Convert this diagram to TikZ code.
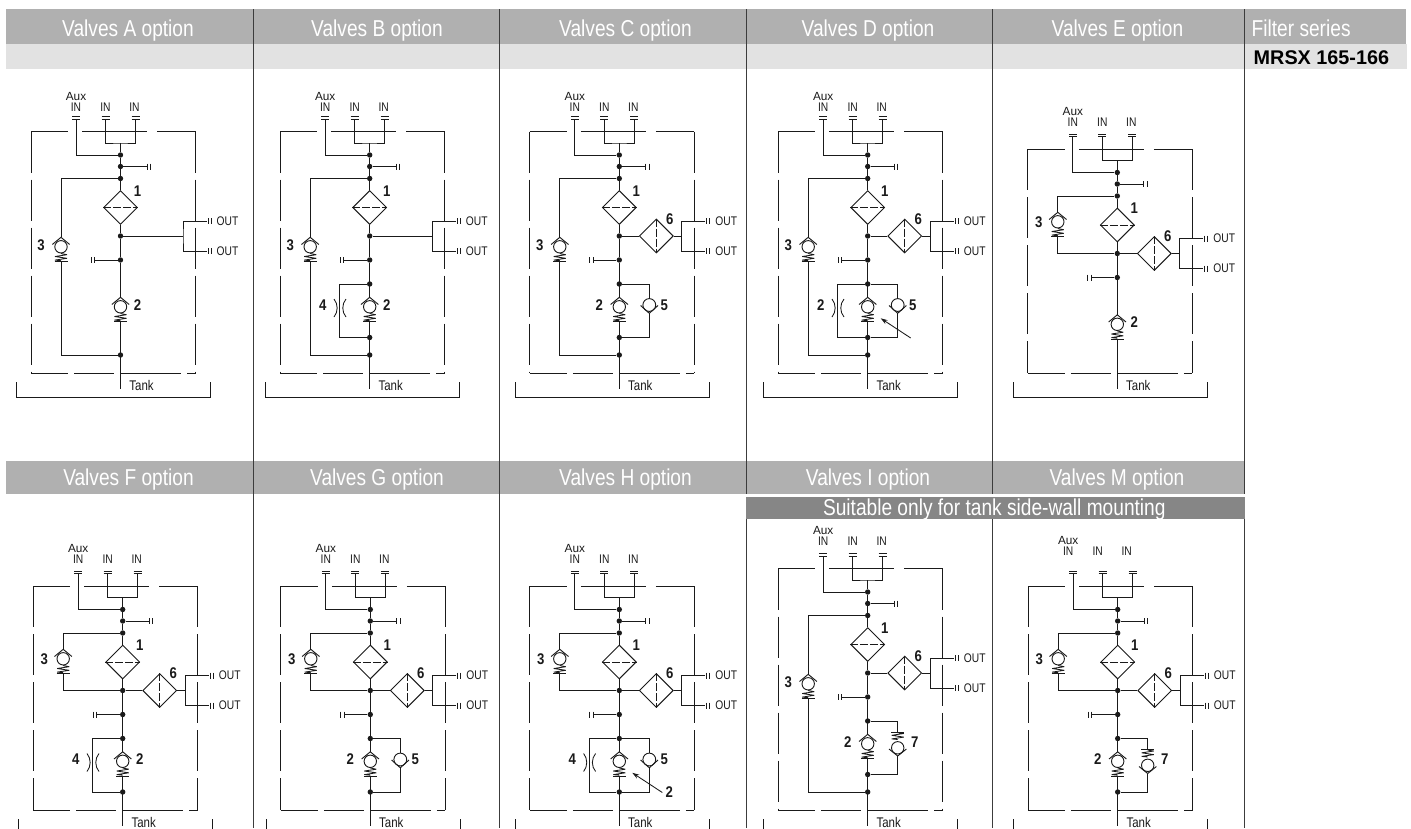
\documentclass[tikz,border=0pt]{standalone}
\usepackage{fontspec}
\usetikzlibrary{shapes.geometric,arrows.meta}
\setmainfont{Liberation Sans}
\newfontfamily\hdrfont[FakeStretch=.832]{Liberation Sans}
\newfontfamily\tagfont[FakeStretch=.82]{Liberation Sans}
\newfontfamily\numfont[FakeStretch=.85]{Liberation Sans Bold}
\definecolor{hdrgrey}{HTML}{B0B0B0}
\definecolor{lightgrey}{HTML}{E2E2E2}
\definecolor{darkgrey}{HTML}{868686}
\definecolor{ink}{HTML}{1A1A1A}
\tikzset{
  wire/.style={draw=ink,line width=.92pt},
  thinwire/.style={draw=ink,line width=.85pt},
  frameline/.style={draw=ink,line width=.9pt},
  divider/.style={draw=ink!85,line width=1pt},
  dotnode/.style={circle,fill=ink,inner sep=0pt,minimum size=5.4pt},
  filterbox/.style={diamond,draw=ink,line width=.92pt,inner sep=0pt,aspect=1,minimum size=34pt},
  dashline/.style={draw=ink,line width=.9pt,dash pattern=on 8pt off 2pt},
  hdrtext/.style={text=white,font=\hdrfont\fontsize{23}{23}\selectfont,inner sep=0pt,anchor=base},
  numtext/.style={text=ink,font=\numfont\fontsize{15.5}{15.5}\selectfont,inner sep=0pt},
  tagtext/.style={text=ink,font=\tagfont\fontsize{12.5}{12.5}\selectfont,inner sep=0pt},
  tanktext/.style={text=ink,font=\tagfont\fontsize{14}{14}\selectfont,inner sep=0pt},
  auxtext/.style={text=ink,font=\fontsize{11.8}{11.8}\selectfont,inner sep=0pt},
}
\newcommand{\SpringAt}[1]{%
  \draw[thinwire,line join=bevel] (0,#1) -- ++(6,1.2) -- ++(-12,1.8) -- ++(12,1.8) -- ++(-12,1.8) -- ++(6,.6);
  \draw[thinwire] (-6.5,#1+8) -- (6.5,#1+8);}
\newcommand{\ValveUp}[3]{% name, x, y
  \begin{scope}[shift={(#2,#3)}]
    \coordinate (#1t) at (0,-7.7);
    \coordinate (#1b) at (0,16.5);
    \draw[wire] (-8.7,-.5) -- (#1t) -- (8.7,-.5);
    \draw[wire] (0,1.8) circle (6.2);
    \SpringAt{8.5}
  \end{scope}}
\newcommand{\ValveFive}[3]{%
  \begin{scope}[shift={(#2,#3)}]
    \coordinate (#1t) at (0,-6.4);
    \coordinate (#1b) at (0,8.3);
    \draw[wire] (-8.7,.5) -- (#1b) -- (8.7,.5);
    \draw[wire] (0,0) circle (6.4);
  \end{scope}}
\newcommand{\ValveSeven}[3]{%
  \begin{scope}[shift={(#2,#3)}]
    \coordinate (#1t) at (0,-10);
    \coordinate (#1b) at (0,14);
    \draw[wire] (-8.7,7) -- (#1b) -- (8.7,7);
    \draw[wire] (0,5.8) circle (6.2);
    \draw[thinwire] (-6.5,-10) -- (6.5,-10);
    \draw[thinwire,line join=bevel] (0,-9.4) -- ++(6,.9) -- ++(-12,1.8) -- ++(12,1.8) -- ++(-12,1.8) -- ++(6,.6);
  \end{scope}}
\newcommand{\Capped}[2]{%
  \draw[wire] (#1-4,#2-2.5) -- (#1+4,#2-2.5);
  \draw[wire] (#1-4,#2) -- (#1+4,#2);}
\newcommand{\StubBars}[2]{%
  \draw[thinwire] (#1,#2-3) -- (#1,#2+3);}
\newcommand{\Panel}[7]{%
  \def\R{#3}\pgfmathsetmacro{\U}{#3+#4}%
  \begin{scope}[shift={(#2,0)},name prefix=#1-]
    \pgfmathsetmacro{\T}{\U+131.5}\pgfmathsetmacro{\B}{\R+373}%
    \draw[frameline] (-89.5,\T) -- (-52.5,\T);
    \draw[frameline] (-38.5,\T) -- (26.5,\T);
    \draw[frameline] (36.5,\T) -- (75,\T);
    \draw[frameline] (-89.5,\B) -- (-52.5,\B);
    \draw[frameline] (-46.5,\B) -- (-6.5,\B);
    \draw[frameline] (.5,\B) -- (60.5,\B);
    \draw[frameline] (66.5,\B) -- (75,\B);
    \draw[frameline,dash pattern=on 41pt off 7pt] (-89.5,\T) -- (-89.5,\B);
    \draw[frameline,dash pattern=on 41pt off 7pt] (75,\T) -- (75,\B);
    \draw[frameline] (-104,\R+382) -- (-104,\R+397) -- (90,\R+397) -- (90,\R+382);
    \coordinate (c1) at (-44.5,\U+119);
    \coordinate (c2) at (-15,\U+119);
    \coordinate (c3) at (15,\U+119);
    \coordinate (m) at (0,\U+143);
    \Capped{-44.5}{\U+119}\Capped{-15}{\U+119}\Capped{15}{\U+119}
    \node[tagtext] (in1) at (-44.5+#6,\U+#5) {IN};
    \node[tagtext] (in2) at (-15+#6,\U+#5) {IN};
    \node[tagtext] (in3) at (14+#6,\U+#5) {IN};
    \node[auxtext] (aux) at (-44.5+#6,\U+#5-10.7) {Aux};
    \node[dotnode] (ja) at (0,\U+155) {};
    \node[dotnode] (tapr) at (0,\U+166.5) {};
    \node[dotnode] (byp) at (0,\U+178.5) {};
    \node[filterbox] (d1) at (0,\U+207.5) {};
    \node[dotnode] (j) at (0,\U+236) {};
    \node[dotnode] (tapl) at (0,\U+260) {};
    \coordinate (tank) at (0,\R+389);
    \coordinate (taprend) at (26.5,\U+166.5);
    \coordinate (taplend) at (-26,\U+260);
    \draw[wire] (c2) |- (m) -| (c3);
    \draw[wire] (c1) |- (ja);
    \draw[wire] (m) -- (ja) -- (tapr) -- (byp) -- (d1.north);
    \draw[wire] (d1.south) -- (j) -- (tapl);
    \draw[dashline] (d1.west) -- (d1.east);
    \draw[wire] (tapr) -- (taprend);
    \draw[wire] (tapl) -- (taplend);
    \StubBars{26.5}{\U+166.5}\StubBars{30}{\U+166.5}
    \StubBars{-26}{\U+260}\StubBars{-29.5}{\U+260}
    \node[numtext] (n1) at (17,\U+191) {1};
    \node[tanktext] (tanklabel) at (21,\R+385) {Tank};
    \ValveUp{v2}{0}{\U+305}
    \draw[wire] (tapl) -- (v2t);
    \draw[wire] (v2b) -- (tank);
    \coordinate (oj) at (62.5,\U+236);
    \coordinate (o1) at (86,\U+221);
    \coordinate (o2) at (86,\U+251);
    \draw[wire] (o1) -| (oj) |- (o2);
    \StubBars{87.5}{\U+221}\StubBars{90.5}{\U+221}
    \StubBars{87.5}{\U+251}\StubBars{90.5}{\U+251}
    \node[tagtext] (out1) at (107,\U+221) {OUT};
    \node[tagtext] (out2) at (107,\U+251) {OUT};
    #7
  \end{scope}}
\newcommand{\OutDirect}{\draw[wire] (j) -- (oj);}
\newcommand{\OutFilter}{%
  \node[filterbox] (d6) at (37,\U+236) {};
  \draw[dashline] (d6.north) -- (d6.south);
  \draw[wire] (j) -- (d6.west);
  \draw[wire] (d6.east) -- (oj);
  \node[numtext] (n6) at (50.5,\U+219) {6};}
\newcommand{\BypLong}{%
  \node[dotnode] (bb) at (0,\U+355) {};
  \ValveUp{v3}{-59.5}{\U+245}
  \draw[wire] (byp) -| (v3t);
  \draw[wire] (v3b) |- (bb);
  \node[numtext] (n3) at (-79.5,\U+245) {3};}
\newcommand{\BypShort}{%
  \ValveUp{v3}{-59.5}{\U+202.5}
  \draw[wire] (byp) -| (v3t);
  \draw[wire] (v3b) |- (j);
  \node[numtext] (n3) at (-78.5,\U+205) {3};}
\newcommand{\ParDots}{%
  \node[dotnode] (pt) at (0,\U+284) {};
  \node[dotnode] (pb) at (0,\U+337.5) {};}
\newcommand{\TwoRight}{\node[numtext] (n2) at (17,\U+305) {2};}
\newcommand{\TwoLeft}{\node[numtext] (n2) at (-20,\U+305) {2};}
\newcommand{\Orifice}[1]{%
  \coordinate (otl) at (-30,\U+284);
  \coordinate (obl) at (-30,\U+337.5);
  \draw[wire] (pt) -- (otl) -- (obl) -- (pb);
  \draw[thinwire] (-35.7,\U+299) .. controls (-31.5,\U+304) and (-31.5,\U+312) .. (-35.7,\U+317);
  \draw[thinwire] (-23.7,\U+299) .. controls (-28,\U+304) and (-28,\U+312) .. (-23.7,\U+317);
  \node[numtext] (n4) at (-47,\U+305) {#1};}
\newcommand{\Five}{%
  \ValveFive{v5}{30}{\U+305}
  \draw[wire] (pt) -| (v5t);
  \draw[wire] (v5b) |- (pb);
  \node[numtext] (n5) at (45,\U+305) {5};}
\newcommand{\Seven}{%
  \ValveSeven{v7}{30}{\U+305}
  \draw[wire] (pt) -| (v7t);
  \draw[wire] (v7b) |- (pb);
  \node[numtext] (n7) at (47,\U+305) {7};}
\newcommand{\Pointer}{%
  \coordinate (ptail) at (43,\U+338);
  \coordinate (phead) at (13,\U+318.3);
  \draw[thinwire,-{Stealth[length=7pt,width=4.5pt]}] (ptail) -- (phead);}
\begin{document}
\begin{tikzpicture}[x=1pt,y=-1pt]
\useasboundingbox (0,0) rectangle (1411,828);
\clip (0,0) rectangle (1411,828);
\fill[white] (0,0) rectangle (1411,828);
\fill[hdrgrey] (6,9) rectangle (1406,44);
\fill[lightgrey] (6,44) rectangle (1406.5,69);
\fill[hdrgrey] (6,461) rectangle (1244.5,493.5);
\draw[divider] (253.7,9) -- (253.7,828);
\draw[divider] (499.7,9) -- (499.7,828);
\draw[divider] (746,9) -- (746,828);
\draw[divider] (992.4,9) -- (992.4,828);
\draw[divider] (1244.5,9) -- (1244.5,828);
\fill[white] (746,493.5) rectangle (1245,496.5);
\fill[darkgrey] (746,496.5) rectangle (1245,519);
\node[hdrtext] (ha) at (128,36) {Valves A option};
\node[hdrtext] (hb) at (377,36) {Valves B option};
\node[hdrtext] (hc) at (625.5,36) {Valves C option};
\node[hdrtext] (hd) at (868,36) {Valves D option};
\node[hdrtext] (he) at (1117.5,36) {Valves E option};
\node[hdrtext,anchor=base west] (hs) at (1251.5,36) {Filter series};
\node[text=black,font=\bfseries\fontsize{19.8}{20}\selectfont,inner sep=0pt,anchor=base west] (hm) at (1253.5,64.5) {MRSX 165-166};
\node[hdrtext] (hf) at (128.5,485.3) {Valves F option};
\node[hdrtext] (hg) at (377,485.3) {Valves G option};
\node[hdrtext] (hh) at (625.5,485.3) {Valves H option};
\node[hdrtext] (hi) at (868,485.3) {Valves I option};
\node[hdrtext] (hj) at (1117,485.3) {Valves M option};
\node[hdrtext] (hw) at (994.3,515.5) {Suitable only for tank side-wall mounting};
\Panel{A}{120.5}{0}{0}{107}{0}{\BypLong\OutDirect\TwoRight}
\Panel{B}{369.7}{0}{0}{107}{0}{\BypLong\OutDirect\ParDots\Orifice{4}\TwoRight}
\Panel{C}{619.3}{0}{0}{107}{0}{\BypLong\OutFilter\ParDots\TwoLeft\Five}
\Panel{D}{867.7}{0}{0}{107}{0}{\BypLong\OutFilter\ParDots\Orifice{2}\Five\Pointer}
\Panel{E}{1117.3}{0}{17.5}{105}{0}{\BypShort\OutFilter\TwoRight}
\Panel{F}{122.7}{437}{17.5}{105}{0}{\BypShort\OutFilter\ParDots\Orifice{4}\TwoRight}
\Panel{G}{370.3}{437}{17.5}{105}{0}{\BypShort\OutFilter\ParDots\TwoLeft\Five}
\Panel{H}{619.3}{437}{17.5}{105}{0}{\BypShort\OutFilter\ParDots\Orifice{4}\Five\Pointer\node[numtext] (n2) at (50,\U+338) {2};}
\Panel{I}{867.7}{437}{0}{104.5}{0}{\BypLong\OutFilter\ParDots\TwoLeft\Seven}
\Panel{M}{1117.7}{437}{17.5}{96.5}{-5}{\BypShort\OutFilter\ParDots\TwoLeft\Seven}
\end{tikzpicture}
\end{document}
